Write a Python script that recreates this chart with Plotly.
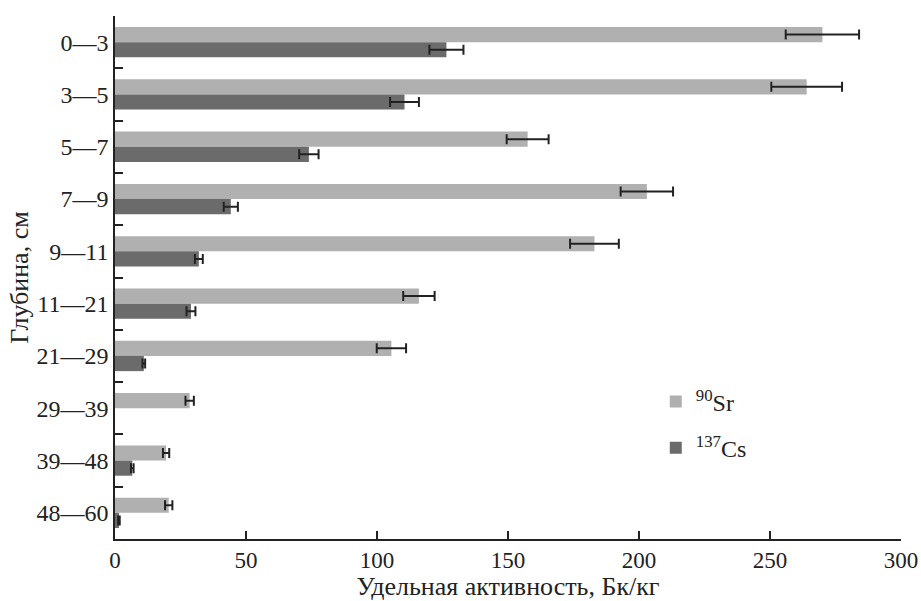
import plotly.graph_objects as go

depths = ["0—3", "3—5", "5—7", "7—9", "9—11", "11—21", "21—29", "29—39", "39—48", "48—60"]
sr90 = [270, 264, 157.5, 203, 183, 116, 105.5, 28.5, 19.5, 20.5]
sr90_err = [14, 13.5, 8, 10, 9.3, 6, 5.6, 1.6, 1.2, 1.4]
cs137 = [126.5, 110.5, 74, 44.2, 32, 29, 11, None, 6.6, 1.5]
cs137_err = [6.5, 5.5, 3.7, 2.7, 1.5, 1.7, 0.5, None, 0.5, 0.3]

x_ticks = [0, 50, 100, 150, 200, 250, 300]

font_family = "Liberation Serif, Times New Roman, serif"

fig = go.Figure()
fig.add_trace(go.Bar(
    y=depths, x=sr90, orientation="h", name="<sup>90</sup>Sr",
    marker=dict(color="#b0b0b0", line=dict(width=0)),
    error_x=dict(type="data", array=sr90_err, visible=True, color="#222222", thickness=2, width=5),
    legendgroup="a",
))
fig.add_trace(go.Bar(
    y=depths, x=cs137, orientation="h", name="<sup>137</sup>Cs",
    marker=dict(color="#6b6b6b", line=dict(width=0)),
    error_x=dict(type="data", array=cs137_err, visible=True, color="#222222", thickness=2, width=5),
    legendgroup="b",
))

fig.update_layout(
    width=921, height=601,
    margin=dict(l=115, r=20, t=16, b=62),
    paper_bgcolor="white", plot_bgcolor="white",
    barmode="group", bargap=0.42, bargroupgap=0,
    font=dict(family=font_family, size=22, color="#222222"),
    showlegend=True,
    legend=dict(
        x=0.688, y=0.305, xanchor="left", yanchor="top",
        font=dict(size=24, family=font_family, color="#222222"),
        traceorder="grouped", tracegroupgap=12,
        bgcolor="rgba(0,0,0,0)", itemwidth=30,
    ),
    xaxis=dict(
        range=[0, 300], tickvals=x_ticks, ticktext=[str(v) for v in x_ticks],
        ticks="inside", ticklen=8, tickwidth=1.5, tickcolor="#222222",
        showline=True, linecolor="#222222", linewidth=1.5,
        showgrid=False, zeroline=False, automargin=False,
        ticklabeloverflow="allow",
        tickfont=dict(size=23),
        title=dict(text="Удельная активность, Бк/кг", font=dict(size=26), standoff=2),
    ),
    yaxis=dict(
        type="category", autorange="reversed",
        ticks="inside", ticklen=8, tickwidth=1.5, tickcolor="#222222",
        tickson="boundaries",
        showline=True, linecolor="#222222", linewidth=1.5,
        showgrid=False, zeroline=False, automargin=False,
        tickfont=dict(size=24),
        title=dict(text="Глубина, см", font=dict(size=26), standoff=0),
    ),
)

fig.write_html(
    "out.html",
    config={"displayModeBar": False},
    post_script="document.body.style.margin='0';document.body.style.overflow='hidden';",
)
